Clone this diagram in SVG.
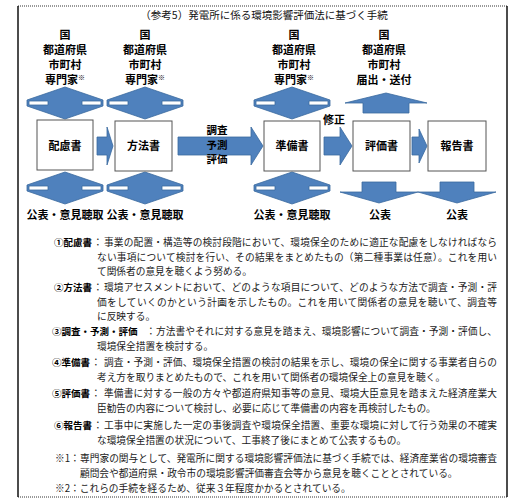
<svg xmlns="http://www.w3.org/2000/svg" width="524" height="502" viewBox="0 0 524 502">
<style>
.t{font-family:"Noto Sans CJK JP","Noto Sans CJK SC",sans-serif;fill:#000}
.h{font-size:11px;font-weight:bold;text-anchor:middle}
.s{font-size:10.5px;font-weight:bold;text-anchor:middle}
.title{font-size:10.5px;text-anchor:middle;fill:#111}
.body{font-size:9.7px;fill:#1a1a1a}
.lbl{font-size:9.5px;font-weight:bold;fill:#000}
.arr{fill:#4F81BD;stroke:#3A6A9E;stroke-width:0.8;fill-rule:evenodd}
.box{fill:#fff;stroke:#555;stroke-width:1}
</style>
<rect width="524" height="502" fill="#fff"/>
<g id="frame">
<line x1="18" y1="6" x2="507" y2="6" stroke="#333" stroke-width="1" stroke-dasharray="1 1"/>
<line x1="18" y1="497" x2="507" y2="497" stroke="#333" stroke-width="1" stroke-dasharray="1 1"/>
<line x1="18" y1="6" x2="18" y2="497" stroke="#111" stroke-width="1.5"/>
<line x1="507" y1="6" x2="507" y2="497" stroke="#111" stroke-width="1.5"/>
</g>
<text class="t title" x="264" y="19">（参考5）発電所に係る環境影響評価法に基づく手続</text>
<g id="actors">
<g id="actor1"><text class="t h" x="65" y="38.5">国</text><text class="t h" x="65" y="54">都道府県</text><text class="t h" x="65" y="69">市町村</text><text class="t h" x="65" y="84">専門家<tspan font-size="7" dy="-4">※</tspan></text></g>
<g id="actor2"><text class="t h" x="145" y="38.5">国</text><text class="t h" x="145" y="54">都道府県</text><text class="t h" x="145" y="69">市町村</text><text class="t h" x="145" y="84">専門家<tspan font-size="7" dy="-4">※</tspan></text></g>
<g id="actor3"><text class="t h" x="294" y="38.5">国</text><text class="t h" x="294" y="54">都道府県</text><text class="t h" x="294" y="69">市町村</text><text class="t h" x="294" y="84">専門家<tspan font-size="7" dy="-4">※</tspan></text></g>
<g id="actor4"><text class="t h" x="384" y="38.5">国</text><text class="t h" x="384" y="54">都道府県</text><text class="t h" x="384" y="69">市町村</text><text class="t h" x="384" y="84">届出・送付</text></g>
</g>
<g id="connectors">
<path class="arr" d="M65,87 L103,100 L103,106 L65,119 L27,106 L27,100 Z M82,101 H101 V105 H82 Z M29,101 H48 V105 H29 Z"/>
<path class="arr" d="M145,87 L183,100 L183,106 L145,119 L107,106 L107,100 Z M162,101 H181 V105 H162 Z M109,101 H128 V105 H109 Z"/>
<path class="arr" d="M292,87 L330,100 L330,106 L292,119 L254,106 L254,100 Z M309,101 H328 V105 H309 Z M256,101 H275 V105 H256 Z"/>
<path class="arr" d="M386,93 L427,103 L409,103 L409,113 L363,113 L363,103 L345,103 Z"/>
<path class="arr" d="M65,172 L103,185 L103,191 L65,204 L27,191 L27,185 Z M82,186 H101 V190 H82 Z M29,186 H48 V190 H29 Z"/>
<path class="arr" d="M145,172 L183,185 L183,191 L145,204 L107,191 L107,185 Z M162,186 H181 V190 H162 Z M109,186 H128 V190 H109 Z"/>
<path class="arr" d="M292,172 L330,185 L330,191 L292,204 L254,191 L254,185 Z M309,186 H328 V190 H309 Z M256,186 H275 V190 H256 Z"/>
<path class="arr" d="M362,182 H396 V192 H418 L379,203 L340,192 H362 Z"/>
<path class="arr" d="M440,182 H474 V192 H496 L457,203 L418,192 H440 Z"/>
<path class="arr" d="M97,137 H107 V127 L113,146 L107,165 V155 H97 Z"/>
<path class="arr" d="M178,137 H251 V127 L263,146 L251,165 V155 H178 Z"/>
<path class="arr" d="M324,137 H340 V127 L352,146 L340,165 V155 H324 Z"/>
<path class="arr" d="M412,137 H419 V129 L427,146 L419,163 V155 H412 Z"/>
<text class="t s" x="217" y="134">調査</text>
<text class="t s" x="217" y="148.5">予測</text>
<text class="t s" x="217" y="163">評価</text>
<text class="t h" x="334" y="124">修正</text>
</g>
<g id="node-hairyo"><rect class="box" x="37" y="120" width="56" height="50"/><text class="t h" x="65" y="150">配慮書</text></g>
<g id="node-houhou"><rect class="box" x="115" y="121" width="57" height="50"/><text class="t h" x="143.5" y="150">方法書</text></g>
<g id="node-junbi"><rect class="box" x="264" y="121" width="56" height="50"/><text class="t h" x="292" y="150">準備書</text></g>
<g id="node-hyouka"><rect class="box" x="353" y="121" width="57" height="50"/><text class="t h" x="381.5" y="150">評価書</text></g>
<g id="node-houkoku"><rect class="box" x="428" y="121" width="58" height="50"/><text class="t h" x="457" y="150">報告書</text></g>
<g id="public-labels">
<text class="t h" x="65" y="219">公表・意見聴取</text>
<text class="t h" x="145" y="219">公表・意見聴取</text>
<text class="t h" x="292" y="219">公表・意見聴取</text>
<text class="t h" x="380" y="219">公表</text>
<text class="t h" x="457" y="219">公表</text>
</g>
<g id="notes">
<text class="t lbl" x="54" y="245.5">①配慮書</text><text class="t body" x="93" y="245.5">：</text>
<text class="t body" x="104" y="245.5" textLength="393" lengthAdjust="spacing">事業の配置・構造等の検討段階において、環境保全のために適正な配慮をしなければなら</text>
<text class="t body" x="97" y="260.5" textLength="400" lengthAdjust="spacing">ない事項について検討を行い、その結果をまとめたもの（第二種事業は任意）。これを用い</text>
<text class="t body" x="97" y="274.5">て関係者の意見を聴くよう努める。</text>
<text class="t lbl" x="54" y="290.5">②方法書</text><text class="t body" x="93" y="290.5">：</text>
<text class="t body" x="104" y="290.5" textLength="393" lengthAdjust="spacing">環境アセスメントにおいて、どのような項目について、どのような方法で調査・予測・評</text>
<text class="t body" x="97" y="305.5" textLength="400" lengthAdjust="spacing">価をしていくのかという計画を示したもの。これを用いて関係者の意見を聴いて、調査等</text>
<text class="t body" x="97" y="319.5">に反映する。</text>
<text class="t lbl" x="52" y="334.5">③調査・予測・評価</text><text class="t body" x="146" y="334.5">：</text>
<text class="t body" x="156" y="334.5" textLength="341" lengthAdjust="spacing">方法書やそれに対する意見を踏まえ、環境影響について調査・予測・評価し、</text>
<text class="t body" x="97" y="349.5">環境保全措置を検討する。</text>
<text class="t lbl" x="52" y="365.5">④準備書</text><text class="t body" x="91" y="365.5">：</text>
<text class="t body" x="104" y="365.5" textLength="393" lengthAdjust="spacing">調査・予測・評価、環境保全措置の検討の結果を示し、環境の保全に関する事業者自らの</text>
<text class="t body" x="97" y="380.5">考え方を取りまとめたもので、これを用いて関係者の環境保全上の意見を聴く。</text>
<text class="t lbl" x="52" y="396.5">⑤評価書</text><text class="t body" x="91" y="396.5">：</text>
<text class="t body" x="104" y="396.5" textLength="393" lengthAdjust="spacing">準備書に対する一般の方々や都道府県知事等の意見、環境大臣意見を踏まえた経済産業大</text>
<text class="t body" x="97" y="411.5">臣勧告の内容について検討し、必要に応じて準備書の内容を再検討したもの。</text>
<text class="t lbl" x="54" y="428.5">⑥報告書</text><text class="t body" x="93" y="428.5">：</text>
<text class="t body" x="104" y="428.5" textLength="393" lengthAdjust="spacing">工事中に実施した一定の事後調査や環境保全措置、重要な環境に対して行う効果の不確実</text>
<text class="t body" x="97" y="443.5">な環境保全措置の状況について、工事終了後にまとめて公表するもの。</text>
<text class="t body" x="55" y="461.5">※1：</text>
<text class="t body" x="80" y="461.5" textLength="417" lengthAdjust="spacing">専門家の関与として、発電所に関する環境影響評価法に基づく手続では、経済産業省の環境審査</text>
<text class="t body" x="80" y="476.5">顧問会や都道府県・政令市の環境影響評価審査会等から意見を聴くこととされている。</text>
<text class="t body" x="55" y="491.5">※2：これらの手続を経るため、従来３年程度かかるとされている。</text>
</g>
</svg>
